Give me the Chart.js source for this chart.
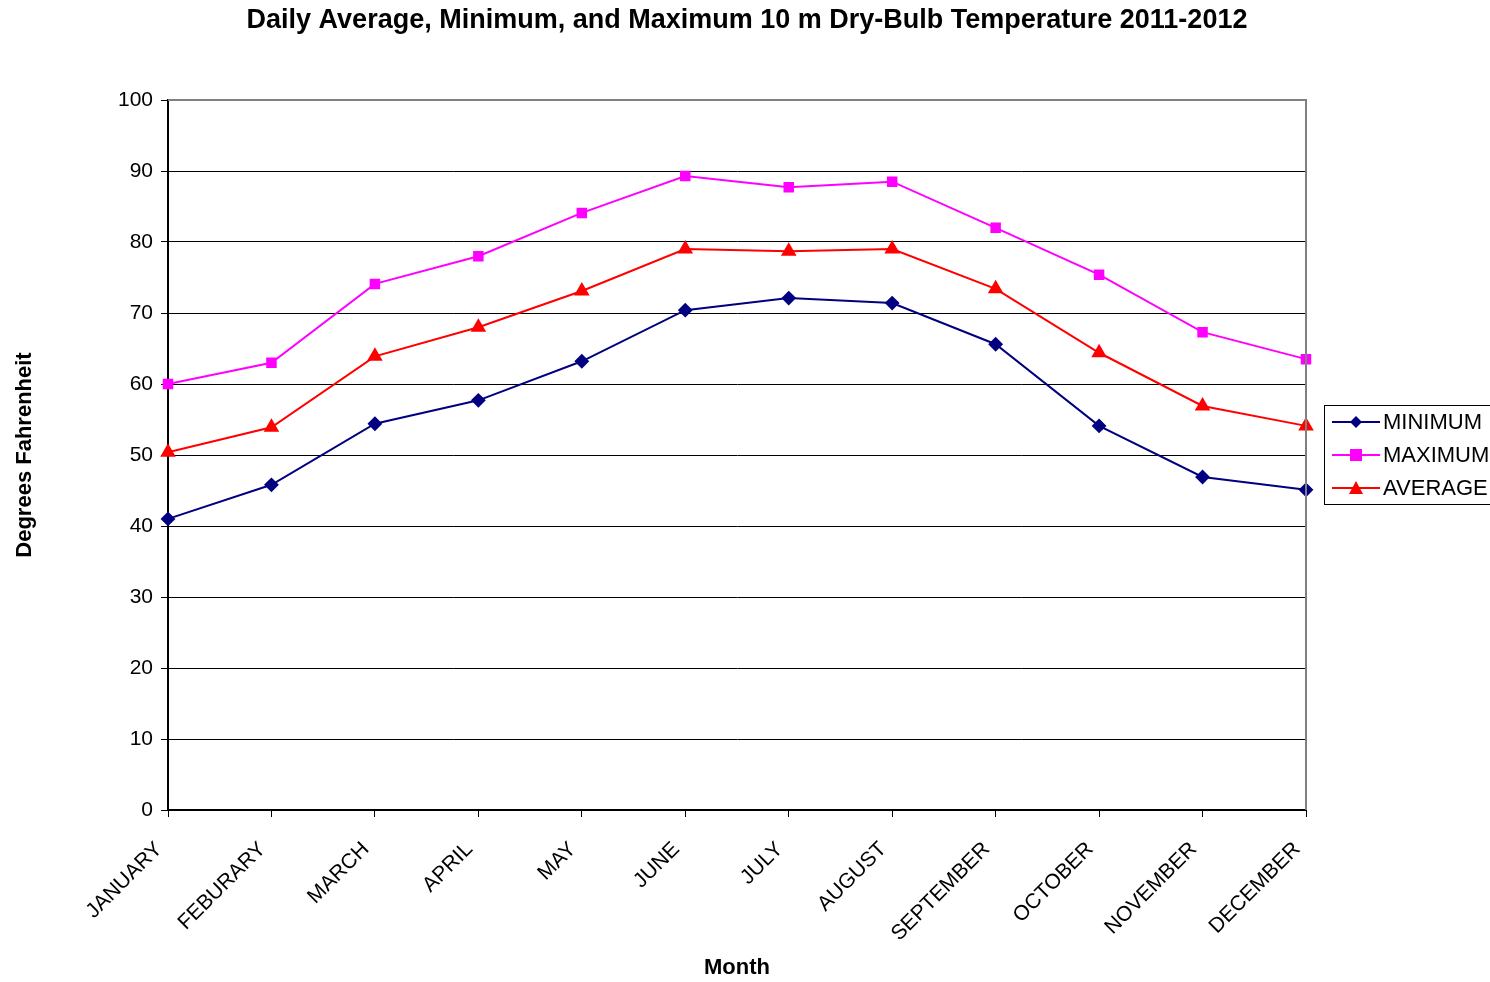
<!DOCTYPE html>
<html>
<head>
<meta charset="utf-8">
<script src="https://cdn.jsdelivr.net/npm/chart.js@4"></script>
<style>
  html, body { margin: 0; padding: 0; background: #fff; }
  #wrap { width: 1490px; height: 982px; }
</style>
</head>
<body>
<div id="wrap"><canvas id="myChart" width="1490" height="982"></canvas></div>
<script>
const months = ['JANUARY', 'FEBURARY', 'MARCH', 'APRIL', 'MAY', 'JUNE', 'JULY',
  'AUGUST', 'SEPTEMBER', 'OCTOBER', 'NOVEMBER', 'DECEMBER'];
const minimumValues = [41.0, 45.8, 54.4, 57.7, 63.2, 70.4, 72.1, 71.4, 65.6, 54.1, 46.9, 45.1];
const maximumValues = [60.0, 63.0, 74.1, 78.0, 84.1, 89.3, 87.7, 88.5, 82.0, 75.4, 67.3, 63.5];
const averageValues = [50.4, 53.9, 63.9, 68.0, 73.1, 79.0, 78.7, 79.0, 73.4, 64.4, 56.9, 54.1];

const chartTitle = 'Daily Average, Minimum, and Maximum 10 m Dry-Bulb Temperature 2011-2012';
const FONT = "'Liberation Sans', Arial, sans-serif";

// title centred on the page, gray frame on top/right of the plot, boxed legend on the right
const frameAndLegend = {
  id: 'frameAndLegend',
  afterDatasetsDraw(chart) {
    const {ctx, chartArea: a} = chart;
    ctx.save();
    ctx.strokeStyle = '#808080';
    ctx.lineWidth = 2;
    ctx.beginPath();
    ctx.moveTo(a.left, a.top);
    ctx.lineTo(a.right, a.top);
    ctx.lineTo(a.right, a.bottom);
    ctx.stroke();
    ctx.restore();
  },
  afterDraw(chart) {
    const ctx = chart.ctx;
    ctx.save();
    ctx.fillStyle = '#000';
    ctx.font = 'bold 27px ' + FONT;
    ctx.textAlign = 'center';
    ctx.textBaseline = 'middle';
    ctx.fillText(chartTitle, 747, 21);

    const x0 = 1324, y0 = 405, w = 170, h = 99;
    ctx.strokeStyle = '#000';
    ctx.lineWidth = 1;
    ctx.strokeRect(x0 + 0.5, y0 + 0.5, w, h);
    ctx.font = '22px ' + FONT;
    ctx.textAlign = 'left';
    chart.data.datasets.forEach((ds, i) => {
      const y = y0 + 17 + i * 33;
      ctx.strokeStyle = ds.borderColor;
      ctx.lineWidth = 2;
      ctx.beginPath();
      ctx.moveTo(x0 + 8, y);
      ctx.lineTo(x0 + 56, y);
      ctx.stroke();
      ctx.fillStyle = ds.borderColor;
      const cx = x0 + 32;
      ctx.beginPath();
      if (ds.pointStyle === 'rectRot') {
        ctx.moveTo(cx, y - 6); ctx.lineTo(cx + 6, y); ctx.lineTo(cx, y + 6); ctx.lineTo(cx - 6, y);
      } else if (ds.pointStyle === 'rect') {
        ctx.rect(cx - 6, y - 6, 12, 12);
      } else {
        ctx.moveTo(cx, y - 7); ctx.lineTo(cx + 7, y + 6); ctx.lineTo(cx - 7, y + 6);
      }
      ctx.closePath();
      ctx.fill();
      ctx.fillStyle = '#000';
      ctx.fillText(ds.label, x0 + 59, y + 1);
    });
    ctx.restore();
  }
};

const myChart = new Chart(document.getElementById('myChart'), {
  type: 'line',
  data: {
    labels: months,
    datasets: [
      {
        label: 'MINIMUM',
        data: minimumValues,
        borderColor: '#000080',
        backgroundColor: '#000080',
        pointStyle: 'rectRot',
        pointRadius: 6,
        borderWidth: 2,
      },
      {
        label: 'MAXIMUM',
        data: maximumValues,
        borderColor: '#FF00FF',
        backgroundColor: '#FF00FF',
        pointStyle: 'rect',
        pointRadius: 6,
        borderWidth: 2,
      },
      {
        label: 'AVERAGE',
        data: averageValues,
        borderColor: '#FF0000',
        backgroundColor: '#FF0000',
        pointStyle: 'triangle',
        pointRadius: 7,
        borderWidth: 2,
      }
    ]
  },
  options: {
    responsive: false,
    animation: false,
    layout: {
      padding: {top: 100, right: 184, bottom: 0, left: 0}
    },
    plugins: {
      legend: {display: false},
      tooltip: {enabled: false},
      title: {display: false}
    },
    scales: {
      x: {
        offset: false,
        afterFit: (s) => { s.height = 172; },
        border: {color: '#000', width: 2},
        grid: {drawOnChartArea: false, drawTicks: true, tickLength: 7, color: '#000'},
        ticks: {
          color: '#000',
          font: {family: FONT, size: 21},
          maxRotation: 45,
          minRotation: 45,
          autoSkip: false,
          labelOffset: -9,
          padding: 20
        },
        title: {
          display: true,
          text: 'Month',
          color: '#000',
          font: {family: FONT, size: 22, weight: 'bold'},
          padding: {top: 4, bottom: 1}
        }
      },
      y: {
        min: 0,
        max: 100,
        afterFit: (s) => { s.width = 168; },
        border: {color: '#000', width: 2},
        grid: {color: '#000', lineWidth: 1, tickLength: 7},
        ticks: {
          stepSize: 10,
          color: '#000',
          font: {family: FONT, size: 21},
          padding: 8
        },
        title: {
          display: true,
          text: 'Degrees Fahrenheit',
          color: '#000',
          font: {family: FONT, size: 22, weight: 'bold'},
          padding: {top: 12, bottom: 0}
        }
      }
    }
  },
  plugins: [frameAndLegend]
});
</script>
</body>
</html>
